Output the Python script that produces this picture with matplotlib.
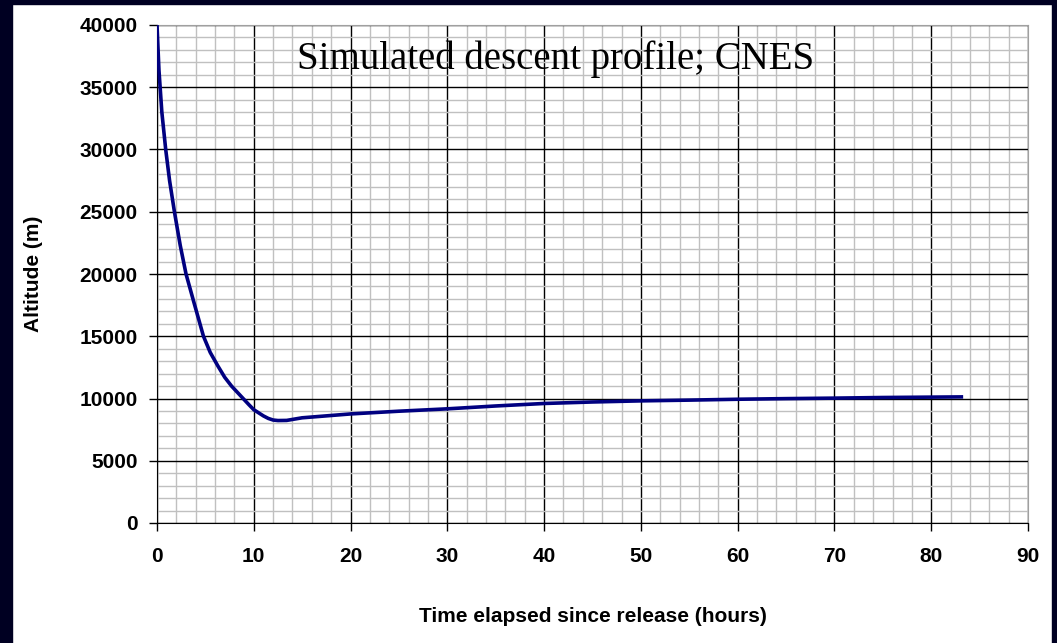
import numpy as np
import matplotlib.pyplot as plt
from matplotlib.patches import Rectangle
from matplotlib.ticker import MultipleLocator

# Simulated descent profile
hours = [0, 0.2, 0.5, 0.9, 1.3, 1.8, 2.4, 3.0, 3.75, 4.8, 5.5, 6.3, 7.0, 7.7,
         8.9, 9.5, 10, 11, 11.5, 12, 12.5, 13.4, 15, 20, 25, 30, 35, 40, 45,
         50, 55, 60, 65, 70, 75, 80, 83.3]
altitude = [40000, 36400, 33000, 30000, 27500, 25000, 22300, 20000, 17900,
            15000, 13700, 12600, 11700, 11000, 10000, 9500, 9100, 8600, 8400,
            8270, 8230, 8240, 8450, 8760, 8980, 9170, 9400, 9600, 9720, 9810,
            9870, 9940, 9990, 10030, 10080, 10110, 10130]

x_ticks = list(range(0, 91, 10))
y_ticks = list(range(0, 40001, 5000))

W, H = 1057, 643
fig = plt.figure(figsize=(W / 100, H / 100), dpi=100, facecolor='white')

# dark navy frame around the slide
navy = '#000022'
for (x0, y0, w, h) in [(0, 0, 12, H), (0, H - 4, W, 4), (1052, 0, 5, H)]:
    fig.patches.append(Rectangle((x0 / W, y0 / H), w / W, h / H,
                                 transform=fig.transFigure, color=navy, zorder=0))

ax = fig.add_axes([157 / W, (H - 523) / H, (1028 - 157) / W, (523 - 25) / H])
ax.set_facecolor('white')

ax.plot(hours, altitude, color='#000080', lw=2.6, zorder=5, solid_capstyle='butt')

ax.set_xlim(0, 90)
ax.set_ylim(0, 40000)
ax.set_xticks(x_ticks)
ax.set_yticks(y_ticks)
ax.xaxis.set_minor_locator(MultipleLocator(2))
ax.yaxis.set_minor_locator(MultipleLocator(1000))

ax.grid(which='minor', color='#c0c0c0', lw=1.0, zorder=1)
ax.grid(which='major', color='black', lw=1.0, zorder=2)
ax.set_axisbelow(True)

for side in ['top', 'right']:
    ax.spines[side].set_color('#a0a0a0')
for side in ['left', 'bottom']:
    ax.spines[side].set_color('black')

fs = 15
ax.tick_params(which='major', direction='out', length=6, width=1, color='black',
               labelsize=fs)
ax.tick_params(axis='y', pad=8)
ax.tick_params(axis='x', pad=11)
ax.tick_params(which='minor', length=0)
for lab in ax.get_xticklabels() + ax.get_yticklabels():
    lab.set_fontweight('bold')
    lab.set_family('Liberation Sans')

ax.set_xlabel('Time elapsed since release (hours)', fontsize=fs,
              fontweight='bold', family='Liberation Sans', labelpad=30)
ax.set_ylabel('Altitude (m)', fontsize=fs, fontweight='bold',
              family='Liberation Sans', labelpad=26)

ax.text(0.161, 0.932, 'Simulated descent profile; CNES', transform=ax.transAxes,
        fontsize=28, family='Liberation Serif', va='center', ha='left', zorder=6)

fig.savefig('out.png', dpi=100, facecolor='white')
